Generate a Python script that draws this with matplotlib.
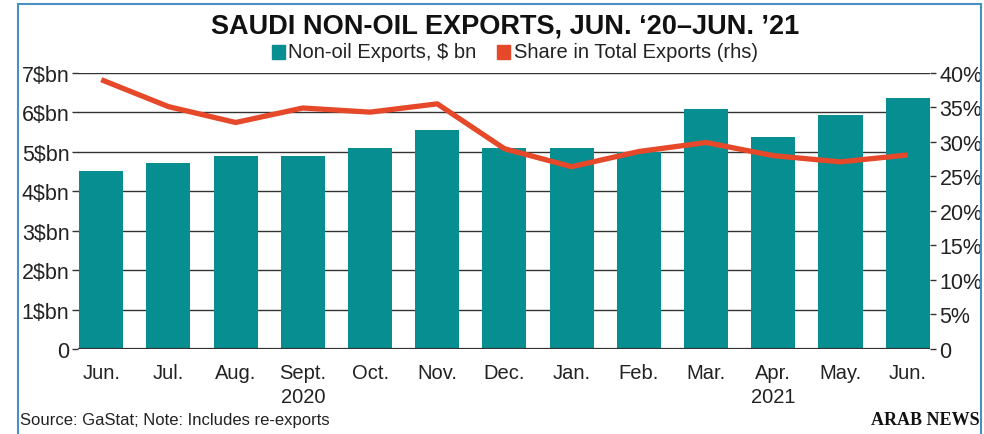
import numpy as np
import matplotlib.pyplot as plt
from matplotlib.patches import Rectangle

# Données
months = ['Jun.', 'Jul.', 'Aug.', 'Sept.', 'Oct.', 'Nov.', 'Dec.',
          'Jan.', 'Feb.', 'Mar.', 'Apr.', 'May.', 'Jun.']
exports_bn = [4.52, 4.72, 4.90, 4.90, 5.10, 5.56, 5.10, 5.10, 5.00, 6.09, 5.38, 5.94, 6.35]
share_pct = [39.0, 35.1, 32.8, 34.9, 34.3, 35.5, 29.0, 26.4, 28.6, 29.9, 28.0, 27.1, 28.1]
left_ticks = [0, 1, 2, 3, 4, 5, 6, 7]
left_labels = ['0', '1$bn', '2$bn', '3$bn', '4$bn', '5$bn', '6$bn', '7$bn']
right_ticks = [0, 5, 10, 15, 20, 25, 30, 35, 40]
right_labels = ['0', '5%', '10%', '15%', '20%', '25%', '30%', '35%', '40%']
years = [('2020', 3), ('2021', 10)]

TEAL = '#078e90'
RED = '#e5492a'
GRID = '#333333'
TXT = '#222222'
FONT = ['Liberation Sans Narrow', 'Liberation Sans', 'DejaVu Sans']

plt.rcParams['font.family'] = FONT

fig = plt.figure(figsize=(9.84, 4.35), dpi=100)
ax = fig.add_axes([0.079, 0.1954, 0.866, 0.635])
ax2 = ax.twinx()

x = np.arange(len(months))
ax.bar(x, exports_bn, width=0.655, color=TEAL, zorder=2)
ax2.plot(x, share_pct, color=RED, linewidth=3.8, solid_capstyle='butt', zorder=3)

ax.set_xlim(-0.35, 12.33)
ax.set_ylim(0, 7)
ax2.set_ylim(0, 40)

# grille horizontale
ax.set_yticks(left_ticks)
ax.set_yticklabels(left_labels)
ax2.set_yticks(right_ticks)
ax2.set_yticklabels(right_labels)
ax.yaxis.grid(True, color=GRID, linewidth=1.0, zorder=0)
ax.set_axisbelow(True)
ax.axhline(0, color=GRID, linewidth=1.6, zorder=4)

for a in (ax, ax2):
    for s in a.spines.values():
        s.set_visible(False)

ax.tick_params(axis='y', length=4, width=1.0, color=GRID, pad=2,
               labelsize=15.5, labelcolor=TXT)
ax2.tick_params(axis='y', length=4, width=1.0, color=GRID, pad=3,
                labelsize=15.5, labelcolor=TXT)
ax.set_xticks(x)
ax.set_xticklabels(months)
ax.tick_params(axis='x', length=0, pad=10, labelsize=14.5, labelcolor=TXT)

# années sous les mois
for label, pos in years:
    ax.annotate(label, xy=(pos, 0), xycoords=('data', 'figure fraction'),
                xytext=(0, 1 - 398 / 435), textcoords=('offset points', 'figure fraction'),
                ha='center', va='center', fontsize=14.5, color=TXT)

# titre et légende
fig.text(0.513, 1 - 27 / 435, "SAUDI NON-OIL EXPORTS, JUN. \u201820\u2013JUN. \u201921",
         ha='center', va='center', fontsize=19.5, fontweight='bold', color='#111111')
fig.patches.append(Rectangle((272 / 984, 1 - 60 / 435), 13 / 984, 14 / 435,
                             transform=fig.transFigure, color=TEAL))
fig.text(288 / 984, 1 - 53 / 435, 'Non-oil Exports, $ bn', ha='left', va='center',
         fontsize=14.5, color=TXT)
fig.patches.append(Rectangle((497 / 984, 1 - 60 / 435), 13 / 984, 14 / 435,
                             transform=fig.transFigure, color=RED))
fig.text(514 / 984, 1 - 53 / 435, 'Share in Total Exports (rhs)', ha='left', va='center',
         fontsize=14.5, color=TXT)

fig.text(20 / 984, 1 - 421 / 435, 'Source: GaStat; Note: Includes re-exports',
         ha='left', va='center', fontsize=12, color=TXT)
fig.text(980 / 984, 1 - 421 / 435, 'ARAB NEWS', ha='right', va='center',
         fontsize=13, fontweight='bold', family=['Liberation Serif', 'DejaVu Serif'],
         color='#111111')

# cadre bleu
fig.patches.append(Rectangle((18 / 984, -0.01), 963 / 984, 1 - 5 / 435 + 0.01,
                             transform=fig.transFigure, fill=False,
                             edgecolor='#4a8fc2', linewidth=1.5))

plt.savefig('out.png', dpi=100)
